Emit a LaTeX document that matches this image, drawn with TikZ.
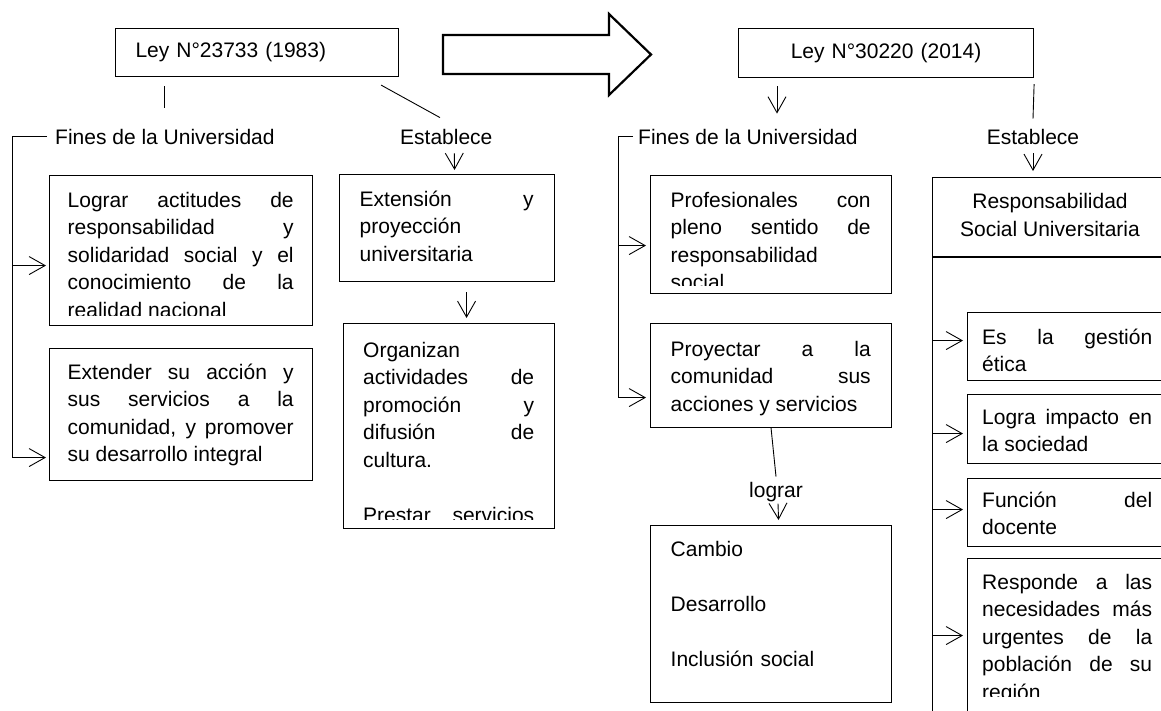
\documentclass[tikz,border=0pt]{standalone}
\usepackage{fontspec}
\setmainfont{Liberation Sans}
\usetikzlibrary{positioning}
\usetikzlibrary{arrows.meta}
\hyphenpenalty=10000
\exhyphenpenalty=10000
\tolerance=10000
\hbadness=10000

\begin{document}
\begin{tikzpicture}[x=1pt, y=-1pt,
    every node/.style = {inner sep=0pt, font=\fontsize{21}{27.5}\selectfont},
    panel/.style = {draw, line width=1.1pt, anchor=north west},
    blurb/.style = {anchor=base west, align=justify},
    link/.style = {line width=0.9pt},
    arrowto/.style = {line width=0.9pt, -{Straight Barb[length=16pt,width=18pt]}}]
  \useasboundingbox (0,0) rectangle (1161,710);
  \clip (0,0) rectangle (1161,710);

  % Ley de 1983
  \node[panel, minimum width=283pt, minimum height=48pt, text width=243pt, align=left] (ley1) at (115,28) {Ley N°23733 (1983)};
  \node[anchor=base west] (fin1) at (55,144) {Fines de la Universidad};
  \node[anchor=base west] (est1) at (400,144) {Establece};
  \draw[link] ([xshift=49pt,yshift=-9pt]ley1.south west) -- ([xshift=109pt,yshift=21pt]fin1.north west);
  \draw[link] ([xshift=-18pt,yshift=-8pt]ley1.south east) -- ([xshift=40pt,yshift=11pt]est1.north west);
  \coordinate (rail1) at ([xshift=-43pt]fin1.west);
  \draw[link] ([xshift=-8pt]fin1.west) -- (rail1);

  \node[panel, minimum width=263pt, minimum height=150pt] (goal1) at (49,175) {};
  \begin{scope}
    \clip (goal1.north west) rectangle ([yshift=11pt]goal1.south east);
    \node[blurb, text width=226pt] (goal1t) at ([xshift=18.5pt,yshift=-32pt]goal1.north west)
      {Lograr actitudes de\linebreak responsabilidad y\linebreak solidaridad social y el\linebreak conocimiento de la\linebreak realidad nacional};
  \end{scope}
  \node[panel, minimum width=263pt, minimum height=132pt] (goal2) at (49,348) {};
  \node[blurb, text width=226pt] (goal2t) at ([xshift=18.5pt,yshift=-31pt]goal2.north west)
    {Extender su acción y\linebreak sus servicios a la\linebreak comunidad, y promover\linebreak su desarrollo integral};
  \draw[arrowto] (rail1) |- ([xshift=-3pt,yshift=-15pt]goal1.west);
  \draw[arrowto] (rail1) |- ([xshift=-3pt,yshift=-43pt]goal2.west);

  \node[panel, minimum width=215pt, minimum height=107pt] (ext) at (339,174) {};
  \node[blurb, text width=174pt] (extt) at ([xshift=20.5pt,yshift=-32pt]ext.north west)
    {Extensión y\linebreak proyección\linebreak universitaria};
  \draw[arrowto] ([xshift=8pt,yshift=-9pt]est1.south) -- ([xshift=7.5pt,yshift=4pt]ext.north);

  \node[panel, minimum width=211pt, minimum height=205pt] (org) at (343,323) {};
  \begin{scope}
    \clip (org.north west) rectangle ([yshift=10pt]org.south east);
    \node[blurb, text width=171pt] (orgt) at ([xshift=20pt,yshift=-34pt]org.north west)
      {Organizan\linebreak actividades de\linebreak promoción y\linebreak difusión de\linebreak cultura.\par\leavevmode\par Prestar servicios\linebreak\mbox{}};
  \end{scope}
  \draw[arrowto] ([xshift=19.5pt,yshift=-10pt]ext.south) -- ([xshift=17.5pt,yshift=5pt]org.north);

  % paso de una ley a otra
  \draw[line width=2.2pt, line join=miter] (443,35) -- (609,35) -- (609,14) -- (651,54.5)
    -- (609,95) -- (609,74) -- (443,74) -- cycle;

  % Ley de 2014
  \node[panel, minimum width=295pt, minimum height=49pt, text width=255pt, align=center] (ley2) at (738,28) {Ley N°30220 (2014)};
  \node[anchor=base west] (fin2) at (638,144) {Fines de la Universidad};
  \draw[arrowto] ([xshift=39pt,yshift=-8pt]ley2.south west) -- ([xshift=139pt,yshift=15pt]fin2.north west);
  \coordinate (rail2) at ([xshift=-20pt]fin2.west);
  \draw[link] ([xshift=-5pt]fin2.west) -- (rail2);

  \node[panel, minimum width=241pt, minimum height=118pt] (prof) at (650,175) {};
  \begin{scope}
    \clip (prof.north west) rectangle ([yshift=9pt]prof.south east);
    \node[blurb, text width=200pt] (proft) at ([xshift=20.5pt,yshift=-32pt]prof.north west)
      {Profesionales con\linebreak pleno sentido de\linebreak responsabilidad\linebreak social};
  \end{scope}
  \node[panel, minimum width=241pt, minimum height=104pt] (proy) at (650,323) {};
  \node[blurb, text width=200pt] (proyt) at ([xshift=20.5pt,yshift=-33pt]proy.north west)
    {Proyectar a la\linebreak comunidad sus\linebreak acciones y servicios};
  \draw[arrowto] (rail2) |- ([xshift=-4pt,yshift=-11pt]prof.west);
  \draw[arrowto] (rail2) |- ([xshift=-4pt,yshift=-22pt]proy.west);

  \node[anchor=base] (lograr) at (776,497) {lograr};
  \draw[link] (proy.south) -- ([yshift=5pt]lograr.north);
  \node[panel, minimum width=241pt, minimum height=177pt] (camb) at (650,525) {};
  \node[blurb, text width=200pt, align=left] (cambt) at ([xshift=20.5pt,yshift=-31pt]camb.north west)
    {Cambio\\[27.5pt]Desarrollo\\[27.5pt]Inclusión social};
  \draw[arrowto] ([xshift=2pt,yshift=-2pt]lograr.south) -- ([xshift=7.5pt,yshift=5pt]camb.north);

  \node[anchor=base] (est2) at (1033,144) {Establece};
  \draw[link] ([yshift=-6pt]ley2.south east) -- ([yshift=10pt]est2.north);
  \node[panel, minimum width=238pt, minimum height=560pt] (rsu) at (932,177) {};
  \draw[line width=1.1pt] ([yshift=-80pt]rsu.north west) -- ([yshift=-80pt]rsu.north east);
  \node[align=center] (rsut) at (1050,215) {Responsabilidad\\Social Universitaria};
  \draw[arrowto] ([yshift=-9pt]est2.south) -- ([yshift=6pt]rsu.north -| est2.south);

  \node[panel, minimum width=200pt, minimum height=68pt] (ethic) at (967,312) {};
  \node[blurb, text width=170pt] (ethict) at ([xshift=15pt,yshift=-32pt]ethic.north west)
    {Es la gestión\linebreak ética};
  \node[panel, minimum width=200pt, minimum height=69pt] (impact) at (967,394) {};
  \node[blurb, text width=170pt] (impactt) at ([xshift=15pt,yshift=-30pt]impact.north west)
    {Logra impacto en\linebreak la sociedad};
  \node[panel, minimum width=200pt, minimum height=68pt] (teach) at (967,478) {};
  \node[blurb, text width=170pt] (teacht) at ([xshift=15pt,yshift=-29pt]teach.north west)
    {Función del\linebreak docente};
  \node[panel, minimum width=200pt, minimum height=170pt] (resp) at (967,558) {};
  \begin{scope}
    \clip (resp.north west) rectangle (1170,696);
    \node[blurb, text width=170pt] (respt) at ([xshift=15pt,yshift=-31pt]resp.north west)
      {Responde a las\linebreak necesidades más\linebreak urgentes de la\linebreak población de su\linebreak región};
  \end{scope}
  \draw[arrowto] ([yshift=6pt]ethic.west -| rsu.west) -- ([xshift=-4pt,yshift=6pt]ethic.west);
  \draw[arrowto] ([yshift=-4.5pt]impact.west -| rsu.west) -- ([xshift=-4pt,yshift=-4.5pt]impact.west);
  \draw[arrowto] ([yshift=3pt]teach.west -| rsu.west) -- ([xshift=-4pt,yshift=3pt]teach.west);
  \draw[arrowto] ([yshift=8pt]resp.west -| rsu.west) -- ([xshift=-4pt,yshift=8pt]resp.west);
\end{tikzpicture}
\end{document}
